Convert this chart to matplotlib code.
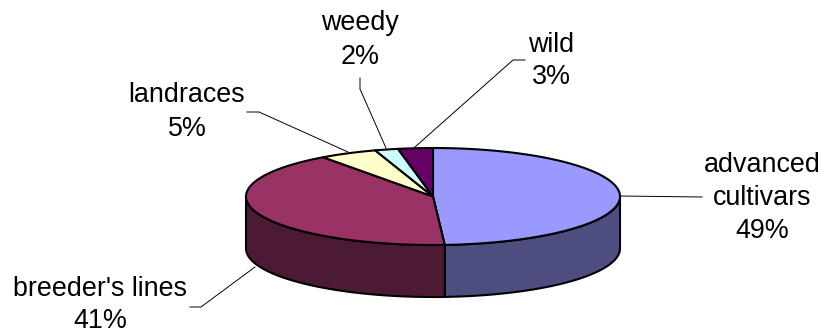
import matplotlib
matplotlib.use("Agg")
import matplotlib.pyplot as plt
import numpy as np
from matplotlib.patches import Polygon

plt.rcParams["font.family"] = ["Liberation Sans", "DejaVu Sans"]

categories = ["advanced\ncultivars", "breeder's lines", "landraces", "weedy", "wild"]
shares     = [49, 41, 5, 2, 3]
top_cols   = ["#9999FF", "#993366", "#FFFFCC", "#CCFFFF", "#660066"]
side_cols  = ["#4D4D80", "#4D1A33", "#808066", "#668080", "#330033"]

# label centre (x, y of the block) and leader path, in pixels
label_pos = [(762, 198), (100, 305), (187, 112), (360, 40), (551, 61)]
leaders = [
    [(620, 196), (702, 197)],
    [(255, 267), (201, 307), (190, 307)],
    [(348, 152), (259, 112), (247, 112)],
    [(386, 148), (360, 89), (360, 78)],
    [(415, 147), (513, 60), (525, 60)],
]

CX, CY   = 433, 196.5
RX, RY   = 187, 48.5
DEPTH    = 52
EDGE_LW  = 1.5


def rim(a0, a1, n=120):
    """Points on the top ellipse; angles run clockwise from 12 o'clock."""
    t = np.radians(np.linspace(a0, a1, n))
    return np.column_stack([CX + RX * np.sin(t), CY - RY * np.cos(t)])


fig = plt.figure(figsize=(8.24, 3.33), dpi=100)
ax = fig.add_axes([0, 0, 1, 1])
ax.set_xlim(0, 824)
ax.set_ylim(333, 0)
ax.axis("off")

edges = np.concatenate([[0], np.cumsum(shares)]) * 3.6

# side wall: only the part of each slice facing the viewer (90-270 deg)
for i, col in enumerate(side_cols):
    a0, a1 = max(edges[i], 90), min(edges[i + 1], 270)
    if a0 >= a1:
        continue
    upper = rim(a0, a1)
    lower = upper[::-1] + [0, DEPTH]
    ax.add_patch(Polygon(np.vstack([upper, lower]), closed=True, facecolor=col,
                         edgecolor="black", linewidth=EDGE_LW, joinstyle="round", zorder=2))

# top face
for i, col in enumerate(top_cols):
    pts = np.vstack([[CX, CY], rim(edges[i], edges[i + 1])])
    ax.add_patch(Polygon(pts, closed=True, facecolor=col, edgecolor="black",
                         linewidth=EDGE_LW, joinstyle="round", zorder=3))

for path in leaders:
    xs, ys = zip(*path)
    ax.plot(xs, ys, color="black", linewidth=0.7, zorder=1)

for name, share, (x, y) in zip(categories, shares, label_pos):
    ax.text(x, y, f"{name}\n{share}%", ha="center", va="center",
            fontsize=19.4, linespacing=1.35, color="black", zorder=4)

fig.savefig("out.png", dpi=100)
